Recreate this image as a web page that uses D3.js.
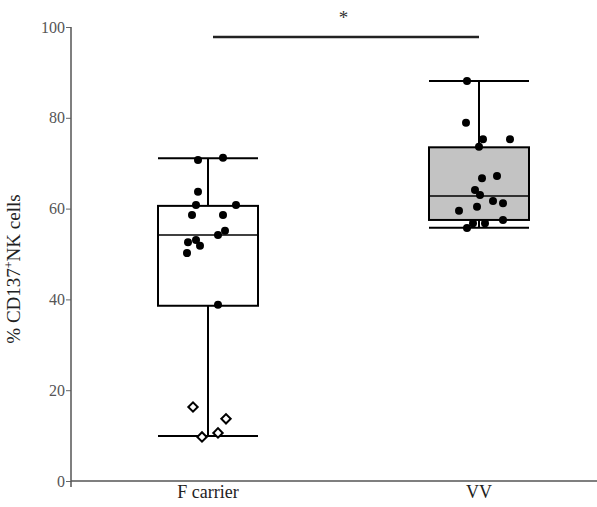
<!DOCTYPE html>
<html>
<head>
<meta charset="utf-8">
<script src="https://cdn.jsdelivr.net/npm/d3@7"></script>
<style>
  body { margin: 0; background: #fff; }
  text { font-family: "Liberation Serif", "Times New Roman", serif; }
</style>
</head>
<body>
<div id="chart"></div>
<script>
// groups and box summaries (min, q1, median, q3, max)
const groups = ["F carrier", "VV"];
const boxMin = [9.9, 55.8];
const boxQ1 = [38.6, 57.5];
const boxMedian = [54.2, 62.8];
const boxQ3 = [60.6, 73.5];
const boxMax = [71.1, 88.1];
const boxFill = ["#ffffff", "#c3c3c3"];

// individual points, jitter is relative to half the box width
const fValues = [70.7, 71.2, 63.7, 60.8, 60.8, 58.6, 58.6, 55.1, 54.2, 53.1, 52.6, 51.8, 50.2, 38.8];
const fJitter = [-0.2, 0.3, -0.2, -0.24, 0.56, -0.32, 0.3, 0.34, 0.2, -0.24, -0.4, -0.16, -0.42, 0.2];
const fOutliers = [16.3, 13.7, 9.7, 10.6];
const fOutJitter = [-0.3, 0.36, -0.12, 0.2];
const vvValues = [88.1, 78.9, 75.3, 75.3, 73.6, 66.7, 67.2, 64.1, 63.0, 60.4, 61.7, 61.2, 59.5, 56.8, 56.8, 57.5, 55.7];
const vvJitter = [-0.24, -0.26, 0.08, 0.62, 0, 0.06, 0.36, -0.08, 0.02, -0.04, 0.28, 0.48, -0.4, -0.12, 0.12, 0.48, -0.24];

const yTicks = [0, 20, 40, 60, 80, 100];
const sigLevel = 97.8;

const W = 597, H = 507;
const svg = d3.select("#chart").append("svg")
  .attr("width", W).attr("height", H);

const y = d3.scaleLinear().domain([0, 100]).range([481, 27]);
const x = d3.scalePoint().domain(groups).range([208, 479]);
const boxW = 100;
const jit = d3.scaleLinear().domain([-1, 1]).range([-boxW / 2, boxW / 2]);

// y axis
const yAxis = svg.append("g")
  .attr("transform", "translate(71,0)")
  .call(d3.axisLeft(y).tickValues(yTicks).tickSize(5).tickSizeOuter(0));
yAxis.select(".domain").remove();
yAxis.selectAll(".tick line").attr("stroke", "#666");
yAxis.selectAll(".tick text")
  .attr("fill", "#555")
  .style("font-size", "16px")
  .attr("x", -6);
svg.append("line")
  .attr("x1", 71).attr("x2", 71)
  .attr("y1", y(100)).attr("y2", y(0) + 6)
  .attr("stroke", "#555").attr("stroke-width", 1.5);

// x axis
svg.append("line")
  .attr("x1", 71).attr("x2", W)
  .attr("y1", y(0)).attr("y2", y(0))
  .attr("stroke", "#555").attr("stroke-width", 1.5);
svg.selectAll(".xlab")
  .data(groups)
  .join("text")
  .attr("class", "xlab")
  .attr("x", d => x(d))
  .attr("y", 498)
  .attr("text-anchor", "middle")
  .style("font-size", "18px")
  .attr("fill", "#222")
  .text(d => d);

// y label
svg.append("text")
  .attr("transform", `translate(20,${(y(0) + y(100)) / 2 + 15}) rotate(-90)`)
  .attr("text-anchor", "middle")
  .style("font-size", "19px")
  .attr("fill", "#222")
  .html('% CD137<tspan dy="-7" style="font-size:12px">+</tspan><tspan dy="7">NK cells</tspan>');

// boxes
groups.forEach((g, i) => {
  const cx = x(g);
  const gb = svg.append("g");
  gb.append("line")
    .attr("x1", cx).attr("x2", cx)
    .attr("y1", y(boxMax[i])).attr("y2", y(boxMin[i]))
    .attr("stroke", "#000").attr("stroke-width", 2);
  [boxMin[i], boxMax[i]].forEach(v => {
    gb.append("line")
      .attr("x1", cx - boxW / 2).attr("x2", cx + boxW / 2)
      .attr("y1", y(v)).attr("y2", y(v))
      .attr("stroke", "#000").attr("stroke-width", 2);
  });
  gb.append("rect")
    .attr("x", cx - boxW / 2)
    .attr("y", y(boxQ3[i]))
    .attr("width", boxW)
    .attr("height", y(boxQ1[i]) - y(boxQ3[i]))
    .attr("fill", boxFill[i])
    .attr("stroke", "#000").attr("stroke-width", 2);
  gb.append("line")
    .attr("x1", cx - boxW / 2).attr("x2", cx + boxW / 2)
    .attr("y1", y(boxMedian[i])).attr("y2", y(boxMedian[i]))
    .attr("stroke", "#000").attr("stroke-width", 1.5);
});

// points
function dots(values, jitter, group) {
  svg.append("g").selectAll("circle")
    .data(values)
    .join("circle")
    .attr("cx", (d, i) => x(group) + jit(jitter[i]))
    .attr("cy", d => y(d))
    .attr("r", 4)
    .attr("fill", "#000");
}
dots(fValues, fJitter, "F carrier");
dots(vvValues, vvJitter, "VV");

// outliers as open diamonds
svg.append("g").selectAll("path")
  .data(fOutliers)
  .join("path")
  .attr("transform", (d, i) => `translate(${x("F carrier") + jit(fOutJitter[i])},${y(d)}) rotate(45)`)
  .attr("d", d3.symbol(d3.symbolSquare, 44))
  .attr("fill", "#fff")
  .attr("stroke", "#000")
  .attr("stroke-width", 2);

// significance bar
svg.append("line")
  .attr("x1", x("F carrier") + 5).attr("x2", x("VV"))
  .attr("y1", y(sigLevel)).attr("y2", y(sigLevel))
  .attr("stroke", "#222").attr("stroke-width", 2.5);
svg.append("text")
  .attr("x", (x("F carrier") + x("VV")) / 2)
  .attr("y", y(sigLevel) - 13)
  .attr("text-anchor", "middle")
  .style("font-size", "19px")
  .attr("fill", "#333")
  .text("*");
</script>
</body>
</html>
